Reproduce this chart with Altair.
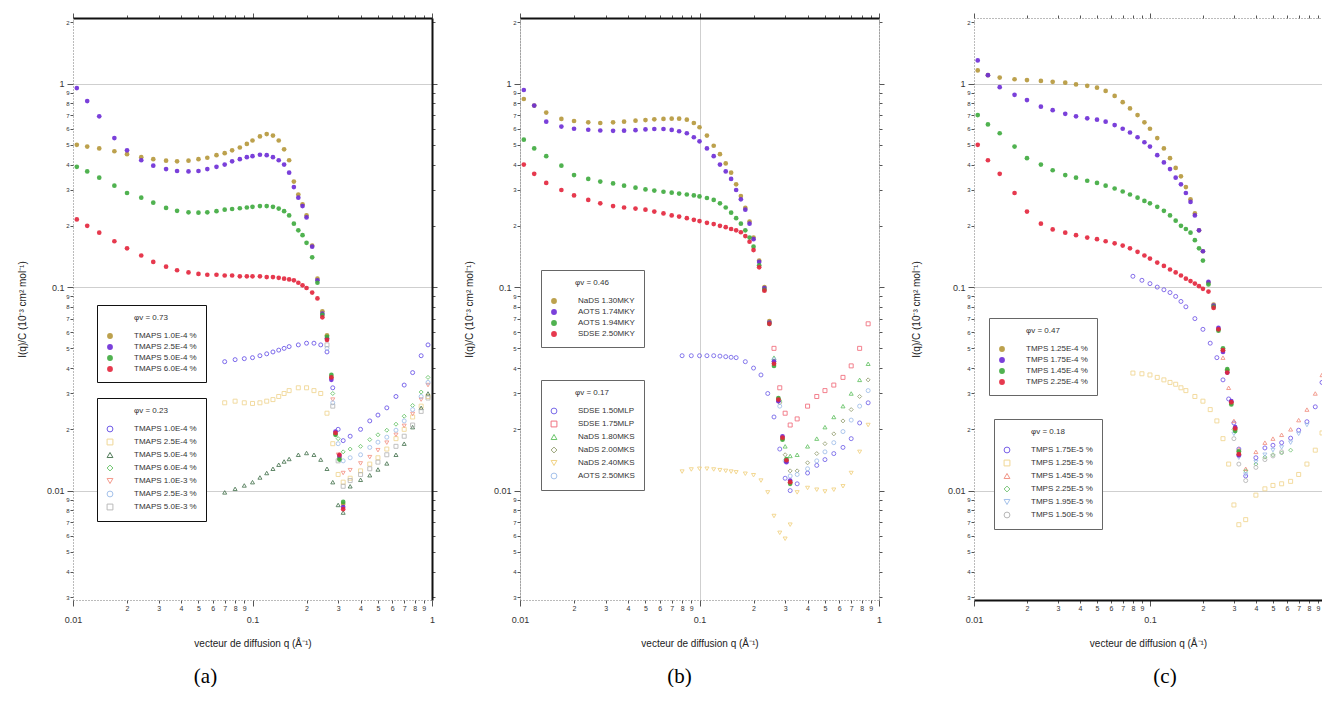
import altair as alt
import pandas as pd

# ---------------- data ----------------
Q1 = [0.0105, 0.012, 0.014, 0.017, 0.02, 0.024, 0.028, 0.033, 0.038, 0.044, 0.05, 0.056,
      0.063, 0.07, 0.077, 0.085, 0.093, 0.1, 0.11, 0.12, 0.13, 0.14, 0.15, 0.16,
      0.17, 0.18, 0.19, 0.2, 0.215, 0.23, 0.245, 0.26, 0.275, 0.29, 0.305, 0.32]
Q2 = [0.07, 0.08, 0.09, 0.1, 0.11, 0.12, 0.13, 0.14, 0.15, 0.16, 0.18, 0.2, 0.22, 0.24,
      0.26, 0.28, 0.3, 0.32, 0.35, 0.4, 0.45, 0.5, 0.56, 0.63, 0.7, 0.78, 0.87, 0.95]
Q2_HI = [0.26, 0.28, 0.3, 0.32, 0.35, 0.4, 0.45, 0.5, 0.56, 0.63, 0.7, 0.78, 0.87, 0.95]

# panel (a)
A1_TITLE = "φv = 0.73"
A1_LABELS = ["TMAPS 1.0E-4 %", "TMAPS 2.5E-4 %", "TMAPS 5.0E-4 %", "TMAPS 6.0E-4 %"]
A1_GOLD = [0.50, 0.49, 0.48, 0.465, 0.45, 0.435, 0.425, 0.418, 0.415, 0.418, 0.425, 0.432,
           0.445, 0.455, 0.47, 0.485, 0.505, 0.525, 0.55, 0.565, 0.555, 0.525, 0.475, 0.42,
           0.33, 0.285, 0.255, 0.225, 0.16, 0.11, 0.076, 0.058, 0.036, 0.019, 0.0145, 0.0086]
A1_PURPLE = [0.95, 0.82, 0.69, 0.54, 0.47, 0.42, 0.395, 0.38, 0.372, 0.37, 0.372, 0.38,
             0.39, 0.40, 0.415, 0.425, 0.435, 0.44, 0.447, 0.445, 0.435, 0.42, 0.40, 0.365,
             0.31, 0.275, 0.25, 0.22, 0.158, 0.108, 0.074, 0.056, 0.035, 0.0195, 0.0148, 0.0083]
A1_GREEN = [0.39, 0.37, 0.345, 0.315, 0.29, 0.275, 0.26, 0.245, 0.237, 0.233, 0.232, 0.233,
            0.236, 0.24, 0.242, 0.244, 0.246, 0.248, 0.25, 0.25, 0.248, 0.243, 0.236, 0.225,
            0.205, 0.19, 0.18, 0.165, 0.14, 0.105, 0.073, 0.057, 0.037, 0.0188, 0.0142, 0.0088]
A1_RED = [0.215, 0.20, 0.185, 0.168, 0.155, 0.143, 0.133, 0.126, 0.121, 0.118, 0.116, 0.115,
          0.115, 0.114, 0.114, 0.113, 0.113, 0.113, 0.113, 0.112, 0.112, 0.111, 0.11, 0.109,
          0.108, 0.105, 0.102, 0.099, 0.094, 0.088, 0.071, 0.055, 0.036, 0.0192, 0.015, 0.0081]
A2_TITLE = "φv = 0.23"
A2_LABELS = ["TMAPS 1.0E-4 %", "TMAPS 2.5E-4 %", "TMAPS 5.0E-4 %", "TMAPS 6.0E-4 %",
             "TMAPS 1.0E-3 %", "TMAPS 2.5E-3 %", "TMAPS 5.0E-3 %"]
A2_PURPLE = [0.043, 0.044, 0.0445, 0.045, 0.046, 0.047, 0.048, 0.049, 0.05, 0.051, 0.052, 0.053,
             0.053, 0.052, 0.048, 0.032, 0.02, 0.0176, 0.0185, 0.02, 0.022, 0.0235, 0.0255,
             0.029, 0.033, 0.038, 0.046, 0.052]
A2_YELLOW = [0.027, 0.0275, 0.027, 0.0268, 0.027, 0.0275, 0.028, 0.029, 0.03, 0.031, 0.032,
             0.032, 0.031, 0.03, 0.024, 0.017, 0.012, 0.011, 0.0115, 0.0125, 0.0135, 0.0145,
             0.016, 0.018, 0.02, 0.023, 0.026, 0.029]
A2_DKGREEN = [0.0098, 0.0102, 0.0106, 0.011, 0.0116, 0.0122, 0.0128, 0.0134, 0.0139, 0.0143,
              0.015, 0.0153, 0.015, 0.0142, 0.0128, 0.011, 0.0085, 0.0078, 0.0105, 0.0113,
              0.0119, 0.0127, 0.0136, 0.015, 0.017, 0.0205, 0.0255, 0.03]
A2_GREEN = [0.055, 0.03, 0.018, 0.0155, 0.016, 0.0165, 0.0178, 0.0188, 0.0198, 0.0212, 0.0232,
            0.0262, 0.0305, 0.036]
A2_SALMON = [0.055, 0.028, 0.015, 0.0122, 0.0126, 0.0136, 0.0146, 0.0158, 0.0172, 0.0188,
             0.0208, 0.0238, 0.028, 0.033]
A2_LTBLUE = [0.05, 0.027, 0.017, 0.014, 0.0145, 0.015, 0.0163, 0.0173, 0.0183, 0.0198, 0.022,
             0.025, 0.029, 0.034]
A2_GRAY = [0.052, 0.026, 0.014, 0.0105, 0.0112, 0.012, 0.0128, 0.0138, 0.015, 0.0165, 0.0185,
           0.021, 0.0245, 0.0285]

# panel (b)
B1_TITLE = "φv = 0.46"
B1_LABELS = ["NaDS 1.30MKY", "AOTS 1.74MKY", "AOTS 1.94MKY", "SDSE 2.50MKY"]
B1_GOLD = [0.84, 0.78, 0.72, 0.67, 0.655, 0.645, 0.64, 0.645, 0.65, 0.657, 0.662, 0.667,
           0.67, 0.672, 0.672, 0.665, 0.64, 0.61, 0.555, 0.495, 0.45, 0.405, 0.365, 0.32,
           0.28, 0.245, 0.21, 0.175, 0.135, 0.1, 0.068, 0.042, 0.028, 0.018, 0.014, 0.011]
B1_PURPLE = [0.93, 0.78, 0.65, 0.615, 0.60, 0.593, 0.588, 0.586, 0.587, 0.59, 0.595, 0.598,
             0.598, 0.592, 0.583, 0.57, 0.545, 0.52, 0.48, 0.44, 0.40, 0.37, 0.34, 0.30,
             0.27, 0.24, 0.205, 0.172, 0.133, 0.099, 0.067, 0.043, 0.0275, 0.0185, 0.0138, 0.0112]
B1_GREEN = [0.53, 0.48, 0.44, 0.395, 0.355, 0.34, 0.33, 0.323, 0.315, 0.308, 0.302, 0.298,
            0.294, 0.291, 0.288, 0.285, 0.282, 0.279, 0.274, 0.268, 0.258, 0.246, 0.232, 0.218,
            0.205, 0.19, 0.175, 0.158, 0.128, 0.097, 0.066, 0.041, 0.0285, 0.0178, 0.0143, 0.0108]
B1_RED = [0.40, 0.36, 0.325, 0.30, 0.282, 0.268, 0.258, 0.25, 0.246, 0.243, 0.24, 0.235,
          0.23, 0.225, 0.222, 0.218, 0.214, 0.211, 0.207, 0.204, 0.2, 0.197, 0.193, 0.19,
          0.186, 0.178, 0.167, 0.152, 0.125, 0.096, 0.066, 0.042, 0.028, 0.0182, 0.0141, 0.011]
B2_TITLE = "φv = 0.17"
B2_LABELS = ["SDSE 1.50MLP", "SDSE 1.75MLP", "NaDS 1.80MKS", "NaDS 2.00MKS",
             "NaDS 2.40MKS", "AOTS 2.50MKS"]
B2_PURPLE = [None, 0.046, 0.046, 0.046, 0.046, 0.046, 0.0458, 0.0455, 0.0452, 0.045, 0.043,
             0.04, 0.037, 0.03, 0.023, 0.016, 0.0115, 0.010, 0.0108, 0.0122, 0.0133, 0.0142,
             0.0152, 0.0163, 0.018, 0.0215, 0.027, None]
B2_YELLOW = [None, 0.0124, 0.0127, 0.0128, 0.0128, 0.0127, 0.0126, 0.0125, 0.0124, 0.0123,
             0.0121, 0.0119, 0.0112, 0.0098, 0.0075, 0.0062, 0.0058, 0.0068, 0.0098, 0.0103,
             0.0101, 0.0099, 0.0101, 0.0105, 0.0122, 0.0155, 0.021, None]
B2_RED = [0.05, 0.032, 0.024, 0.021, 0.0225, 0.026, 0.029, 0.031, 0.033, 0.036, 0.041, 0.05,
          0.066, None]
B2_GREEN = [0.045, 0.028, 0.0165, 0.0148, 0.015, 0.0165, 0.018, 0.0205, 0.023, 0.026, 0.03,
            0.035, 0.042, None]
B2_OLIVE = [0.043, 0.027, 0.015, 0.0125, 0.0125, 0.0137, 0.0152, 0.017, 0.019, 0.022, 0.025,
            0.029, 0.035, None]
B2_LTBLUE = [0.044, 0.026, 0.014, 0.0118, 0.012, 0.0128, 0.014, 0.0155, 0.0172, 0.0195,
             0.0222, 0.026, 0.031, None]

# panel (c)
C1_TITLE = "φv = 0.47"
C1_LABELS = ["TMPS 1.25E-4 %", "TMPS 1.75E-4 %", "TMPS 1.45E-4 %", "TMPS 2.25E-4 %"]
C1_GOLD = [1.16, 1.1, 1.07, 1.05, 1.04, 1.03, 1.02, 1.01, 0.99, 0.975, 0.955, 0.92, 0.87,
           0.81, 0.755, 0.70, 0.645, 0.6, 0.54, 0.48, 0.43, 0.385, 0.35, 0.31, 0.27, 0.23,
           0.19, 0.15, 0.105, 0.082, 0.062, 0.049, 0.039, 0.027, 0.02, 0.0153]
C1_PURPLE = [1.3, 1.1, 0.96, 0.88, 0.83, 0.77, 0.74, 0.71, 0.69, 0.675, 0.665, 0.65, 0.625,
             0.60, 0.575, 0.545, 0.515, 0.49, 0.445, 0.41, 0.38, 0.345, 0.32, 0.29, 0.262,
             0.225, 0.19, 0.15, 0.106, 0.081, 0.063, 0.048, 0.038, 0.0275, 0.0205, 0.0149]
C1_GREEN = [0.70, 0.63, 0.57, 0.49, 0.43, 0.40, 0.375, 0.355, 0.345, 0.333, 0.325, 0.315,
            0.305, 0.295, 0.285, 0.275, 0.265, 0.258, 0.248, 0.237, 0.225, 0.212, 0.2, 0.193,
            0.185, 0.17, 0.155, 0.135, 0.103, 0.08, 0.061, 0.05, 0.0395, 0.0265, 0.0196, 0.0156]
C1_RED = [0.50, 0.42, 0.36, 0.29, 0.235, 0.205, 0.192, 0.185, 0.18, 0.175, 0.172, 0.168,
          0.164, 0.16, 0.155, 0.149, 0.143, 0.138, 0.132, 0.127, 0.122, 0.118, 0.114, 0.11,
          0.107, 0.104, 0.101, 0.098, 0.095, 0.079, 0.062, 0.049, 0.038, 0.0272, 0.0202, 0.0151]
C2_TITLE = "φv = 0.18"
C2_LABELS = ["TMPS 1.75E-5 %", "TMPS 1.25E-5 %", "TMPS 1.45E-5 %", "TMPS 2.25E-5 %",
             "TMPS 1.95E-5 %", "TMPS 1.50E-5 %"]
C2_PURPLE = [None, 0.113, 0.108, 0.104, 0.1, 0.097, 0.094, 0.09, 0.085, 0.08, 0.07, 0.062,
             0.053, 0.045, 0.035, 0.0282, 0.0215, 0.016, 0.0118, 0.0145, 0.0162, 0.0167,
             0.0172, 0.0181, 0.0198, 0.0218, 0.0258, 0.034]
C2_YELLOW = [None, 0.0378, 0.0375, 0.037, 0.036, 0.035, 0.034, 0.0333, 0.032, 0.031, 0.029,
             0.0275, 0.025, 0.022, 0.018, 0.0135, 0.0085, 0.0068, 0.0072, 0.0095, 0.0102,
             0.0106, 0.0108, 0.0111, 0.012, 0.0135, 0.0158, 0.0192]
C2_SALMON = [0.045, 0.032, 0.022, 0.016, 0.0128, 0.0155, 0.0172, 0.018, 0.0188, 0.02, 0.0222,
             0.025, 0.03, 0.037]
C2_GREEN = [None, None, 0.02, 0.015, 0.0125, 0.0135, 0.0146, 0.015, 0.0153, 0.0158, None,
            None, None, None]
C2_LTBLUE = [None, None, 0.019, 0.0145, 0.012, 0.0138, 0.015, 0.0158, 0.0163, 0.0172, 0.019,
             0.021, None, None]
C2_GRAY = [None, None, 0.018, 0.0135, 0.0112, 0.013, 0.0142, 0.0148, 0.0155, None, None,
           None, None, None]

X_TICKS = [0.01, 0.02, 0.03, 0.04, 0.05, 0.06, 0.07, 0.08, 0.09,
           0.1, 0.2, 0.3, 0.4, 0.5, 0.6, 0.7, 0.8, 0.9, 1.0]
Y_TICKS = [0.003, 0.004, 0.005, 0.006, 0.007, 0.008, 0.009,
           0.01, 0.02, 0.03, 0.04, 0.05, 0.06, 0.07, 0.08, 0.09,
           0.1, 0.2, 0.3, 0.4, 0.5, 0.6, 0.7, 0.8, 0.9, 1.0, 2.0]

G1_COLORS = ["#b5973a", "#6b2bd6", "#3daa3d", "#e3243b"]
G2_SHAPES = ["circle", "square", "triangle-up", "diamond", "triangle-down", "circle", "square"]

XTITLE = "vecteur de diffusion q (Å⁻¹)"
YTITLE = "I(q)/C (10⁻³ cm² mol⁻¹)"

DEC = "abs(log(datum.value)/LN10 - round(log(datum.value)/LN10)) < 0.01"
LBL = (DEC + " ? format(datum.value, '~g') : "
       "format(round(datum.value / pow(10, floor(log(datum.value)/LN10 + 0.001))), 'd')")

SOLID = dict(domainColor="#111", domainWidth=2)
DOTTED = dict(domainColor="#777", domainWidth=1, domainDash=[1, 2])


def make_df(series):
    rows = []
    for label, qs, vals in series:
        for q, v in zip(qs, vals):
            if v is not None:
                rows.append({"q": q, "I": v, "s": label})
    return pd.DataFrame(rows)


def cond(a, b):
    return {"condition": {"test": DEC, "value": a}, "value": b}


def panel(g1, labels1, title1, g2, labels2, title2, colors2, xdom, width,
          leg1, leg2, legstroke, caption, cap_dx, styles, grid_x, grid_y, ytpad):
    xs = alt.Scale(type="log", domain=xdom, nice=False)
    ys = alt.Scale(type="log", domain=[0.0029, 2.1], nice=False)

    ax_bottom = alt.Axis(orient="bottom", values=X_TICKS, labelExpr=LBL, labelOverlap=False,
                         labelFlush=False, labelFontSize=cond(9, 7), labelPadding=cond(9, 1),
                         tickSize=cond(6, 3), tickColor="#555", grid=grid_x, gridColor="#cfcfcf",
                         gridOpacity=cond(1, 0), title=XTITLE, titlePadding=14, **styles["bottom"])
    ax_left = alt.Axis(orient="left", values=Y_TICKS, labelExpr=LBL, labelOverlap=False,
                       labelFlush=False, labelFontSize=cond(9, 6), labelPadding=cond(3, 1),
                       tickSize=cond(6, 3), tickColor="#555", grid=grid_y, gridColor="#cfcfcf",
                       gridOpacity=cond(1, 0), title=YTITLE, titlePadding=ytpad, **styles["left"])
    ax_top = alt.Axis(orient="top", values=X_TICKS, labels=False, title=None,
                      tickSize=cond(5, 3), tickColor="#555", grid=False, **styles["top"])
    if styles.get("right") is not None:
        ax_right = alt.Axis(orient="right", values=Y_TICKS, labels=False, title=None,
                            tickSize=cond(5, 3), tickColor="#555", grid=False, **styles["right"])
    else:
        ax_right = None

    common = dict(orient="none", strokeColor=legstroke, fillColor="white", padding=9,
                  titleAnchor="middle", titlePadding=10, rowPadding=3, symbolSize=34,
                  labelOffset=20, titleFontSize=8, labelFontSize=8, titleFontWeight="normal")
    legend1 = alt.Legend(title=title1, legendX=leg1[0], legendY=leg1[1], **common)
    legend2 = alt.Legend(title=title2, legendX=leg2[0], legendY=leg2[1],
                         symbolStrokeWidth=1, **common)

    df1 = make_df(g1)
    df2 = make_df(g2)

    y2 = alt.Y("I:Q", scale=ys, axis=ax_right) if ax_right is not None else \
        alt.Y("I:Q", scale=ys, axis=None)
    layer2 = alt.Chart(df2).mark_point(filled=False, size=16, strokeWidth=0.9,
                                        opacity=0.9, clip=True).encode(
        x=alt.X("q:Q", scale=xs, axis=ax_top),
        y=y2,
        stroke=alt.Stroke("s:N", scale=alt.Scale(domain=labels2, range=colors2),
                          legend=legend2),
        shape=alt.Shape("s:N", scale=alt.Scale(domain=labels2, range=G2_SHAPES[:len(labels2)]),
                        legend=legend2),
    )
    layer1 = alt.Chart(df1).mark_point(filled=True, size=22, opacity=0.9, clip=True).encode(
        x=alt.X("q:Q", scale=xs, axis=ax_bottom),
        y=alt.Y("I:Q", scale=ys, axis=ax_left),
        color=alt.Color("s:N", scale=alt.Scale(domain=labels1, range=G1_COLORS),
                        legend=legend1),
    )
    return alt.layer(layer2, layer1).resolve_axis(x="independent", y="independent").properties(
        width=width, height=582,
        title=alt.TitleParams(text=caption, orient="bottom", anchor="middle", dx=cap_dx,
                              offset=18, fontSize=21, font="Liberation Serif",
                              fontWeight="normal", color="#000"))


pa = panel(
    [(A1_LABELS[0], Q1, A1_GOLD), (A1_LABELS[1], Q1, A1_PURPLE),
     (A1_LABELS[2], Q1, A1_GREEN), (A1_LABELS[3], Q1, A1_RED)],
    A1_LABELS, A1_TITLE,
    [(A2_LABELS[0], Q2, A2_PURPLE), (A2_LABELS[1], Q2, A2_YELLOW),
     (A2_LABELS[2], Q2, A2_DKGREEN), (A2_LABELS[3], Q2_HI, A2_GREEN),
     (A2_LABELS[4], Q2_HI, A2_SALMON), (A2_LABELS[5], Q2_HI, A2_LTBLUE),
     (A2_LABELS[6], Q2_HI, A2_GRAY)],
    A2_LABELS, A2_TITLE,
    ["#5f48e6", "#efd48c", "#3f6e48", "#5cc05c", "#f48f80", "#9bbbe9", "#b3b3b3"],
    [0.01, 1.0], 359, (24, 287), (24, 380), "#111", "(a)", -47,
    {"bottom": DOTTED, "left": DOTTED, "top": SOLID, "right": SOLID}, False, True, 19)

pb = panel(
    [(B1_LABELS[0], Q1, B1_GOLD), (B1_LABELS[1], Q1, B1_PURPLE),
     (B1_LABELS[2], Q1, B1_GREEN), (B1_LABELS[3], Q1, B1_RED)],
    B1_LABELS, B1_TITLE,
    [(B2_LABELS[0], Q2, B2_PURPLE), (B2_LABELS[1], Q2_HI, B2_RED),
     (B2_LABELS[2], Q2_HI, B2_GREEN), (B2_LABELS[3], Q2_HI, B2_OLIVE),
     (B2_LABELS[4], Q2, B2_YELLOW), (B2_LABELS[5], Q2_HI, B2_LTBLUE)],
    B2_LABELS, B2_TITLE,
    ["#6a5ae8", "#f06474", "#5cc05c", "#8f9a6a", "#f0cf7a", "#9bbbe9"],
    [0.01, 1.0], 359, (21, 252), (21, 362), "#666", "(b)", -20,
    {"bottom": DOTTED, "left": DOTTED, "top": SOLID, "right": DOTTED}, True, False, 19)

pc = panel(
    [(C1_LABELS[0], Q1, C1_GOLD), (C1_LABELS[1], Q1, C1_PURPLE),
     (C1_LABELS[2], Q1, C1_GREEN), (C1_LABELS[3], Q1, C1_RED)],
    C1_LABELS, C1_TITLE,
    [(C2_LABELS[0], Q2, C2_PURPLE), (C2_LABELS[1], Q2, C2_YELLOW),
     (C2_LABELS[2], Q2_HI, C2_SALMON), (C2_LABELS[3], Q2_HI, C2_GREEN),
     (C2_LABELS[4], Q2_HI, C2_LTBLUE), (C2_LABELS[5], Q2_HI, C2_GRAY)],
    C2_LABELS, C2_TITLE,
    ["#6a4ee6", "#f0d48a", "#f08a7a", "#6cc06c", "#9bbbe9", "#b0b0b0"],
    [0.01, 0.95], 348, (15, 300), (20, 401), "#666", "(c)", 17,
    {"bottom": SOLID, "left": DOTTED, "top": DOTTED, "right": None}, False, True, 26)

chart = alt.hconcat(pa, pb, pc, spacing=26).resolve_scale(
    color="independent", stroke="independent", shape="independent", x="independent",
    y="independent"
).properties(
    padding={"left": 9, "top": 4, "right": 0, "bottom": 0}
).configure_view(stroke=None).configure_axis(
    labelFont="Liberation Sans", titleFont="Liberation Sans", labelColor="#333",
    titleColor="#222", titleFontWeight="normal", titleFontSize=10
).configure_legend(
    labelFont="Liberation Sans", titleFont="Liberation Sans", labelColor="#333",
    titleColor="#333"
)

chart.save("out.html", embed_options={"renderer": "svg", "actions": False})
